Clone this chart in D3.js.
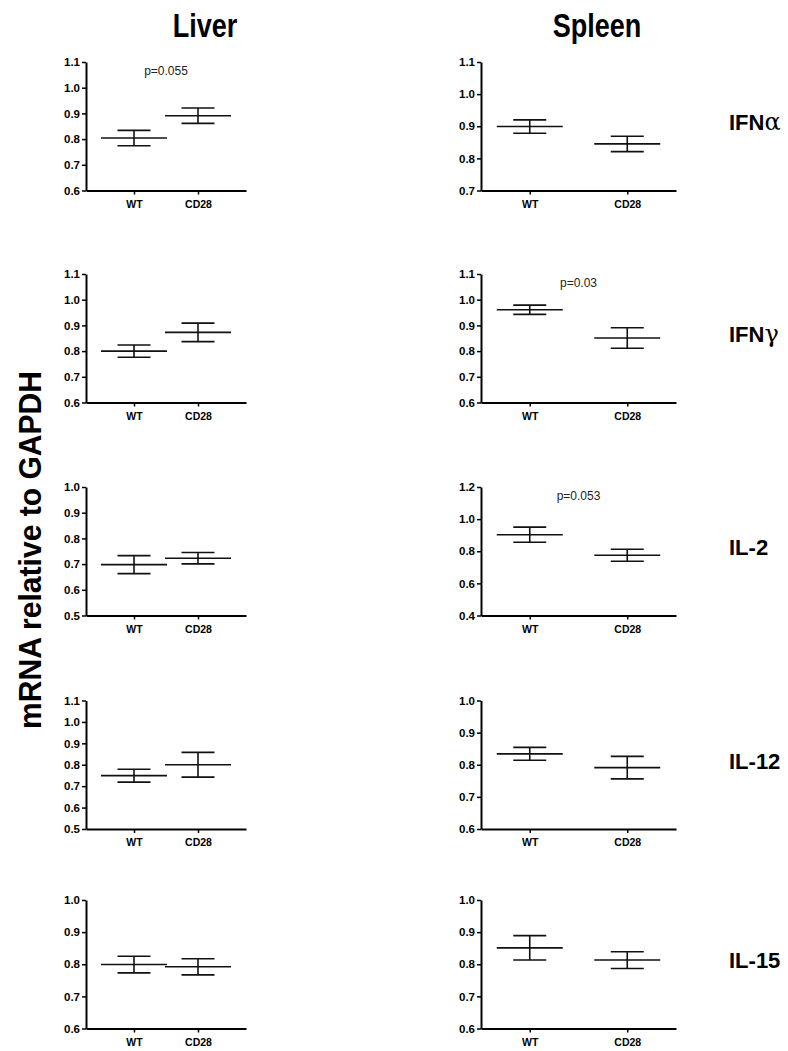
<!DOCTYPE html>
<html>
<head>
<meta charset="utf-8">
<script src="https://cdn.jsdelivr.net/npm/d3@7"></script>
<style>
  body { margin: 0; background: #fff; }
  svg { font-family: "Liberation Sans", Arial, sans-serif; }
</style>
</head>
<body>
<div id="chart"></div>
<script>
// gene rows, tissue columns, groups on x
const genes = ["IFN", "IFN", "IL-2", "IL-12", "IL-15"];
const greek = ["α", "γ", "", "", ""];
const tissues = ["Liver", "Spleen"];
const groups = ["WT", "CD28"];

// means [WT, CD28] and SEM per gene
const liverMean = [[0.804, 0.891], [0.800, 0.873], [0.698, 0.723], [0.749, 0.800], [0.799, 0.792]];
const liverSem = [[0.030, 0.030], [0.024, 0.036], [0.035, 0.022], [0.030, 0.058], [0.026, 0.025]];
const spleenMean = [[0.899, 0.845], [0.961, 0.851], [0.903, 0.775], [0.834, 0.791], [0.851, 0.813]];
const spleenSem = [[0.021, 0.024], [0.018, 0.040], [0.047, 0.037], [0.020, 0.035], [0.038, 0.026]];

// axis ranges
const liverDomain = [[0.6, 1.1], [0.6, 1.1], [0.5, 1.0], [0.5, 1.1], [0.6, 1.0]];
const spleenDomain = [[0.7, 1.1], [0.6, 1.1], [0.4, 1.2], [0.6, 1.0], [0.6, 1.0]];
const liverStep = [0.1, 0.1, 0.1, 0.1, 0.1];
const spleenStep = [0.1, 0.1, 0.2, 0.1, 0.1];

// p-value notes
const liverP = ["p=0.055", "", "", "", ""];
const spleenP = ["", "p=0.03", "p=0.053", "", ""];

const width = 788, height = 1051;
const rowTop = [62, 274, 487, 700.5, 900];
const plotH = 128.5;
const colLeft = [86, 481];
const colW = [160, 195];

const svg = d3.select("#chart").append("svg")
  .attr("width", width)
  .attr("height", height);

// column titles
const titleX = [205, 597];
tissues.forEach((t, c) => {
  svg.append("text")
    .attr("transform", `translate(${titleX[c]}, 37) scale(0.82, 1)`)
    .attr("text-anchor", "middle")
    .attr("font-size", 33)
    .attr("font-weight", "bold")
    .text(t);
});

// y title
svg.append("text")
  .attr("transform", `translate(41, 550) rotate(-90) scale(0.97, 1)`)
  .attr("text-anchor", "middle")
  .attr("font-size", 31)
  .attr("font-weight", "bold")
  .text("mRNA relative to GAPDH");

const tissueData = [
  { mean: liverMean, sem: liverSem, domain: liverDomain, step: liverStep, p: liverP },
  { mean: spleenMean, sem: spleenSem, domain: spleenDomain, step: spleenStep, p: spleenP },
];

tissueData.forEach((td, c) => {
  genes.forEach((g, r) => {
    const gEl = svg.append("g")
      .attr("transform", `translate(${colLeft[c]}, ${rowTop[r]})`);

    const x = d3.scalePoint()
      .domain(groups)
      .range([0, colW[c]])
      .padding(c === 0 ? 0.75 : 0.5);

    const dom = td.domain[r];
    const y = d3.scaleLinear().domain(dom).range([plotH, 0]);
    const ticks = d3.range(dom[0], dom[1] + 1e-6, td.step[r]);

    // y axis
    const yAxis = gEl.append("g")
      .call(d3.axisLeft(y).tickValues(ticks).tickFormat(d3.format(".1f")).tickSize(4).tickSizeOuter(0).tickPadding(2));
    yAxis.select(".domain").attr("stroke-width", 2);
    yAxis.selectAll(".tick line").attr("stroke-width", 1.5);
    yAxis.selectAll("text")
      .attr("font-size", 11.5)
      .attr("font-weight", "bold")
      .attr("font-family", "Liberation Sans, Arial, sans-serif");

    // x axis
    const xAxis = gEl.append("g")
      .attr("transform", `translate(0, ${plotH})`)
      .call(d3.axisBottom(x).tickSize(4).tickSizeOuter(0).tickPadding(6));
    xAxis.select(".domain").attr("stroke-width", 2);
    xAxis.selectAll(".tick line").attr("stroke-width", 1.5);
    xAxis.selectAll("text")
      .attr("font-size", 10.5)
      .attr("font-weight", "bold")
      .attr("font-family", "Liberation Sans, Arial, sans-serif");

    // mean +/- SEM
    const pts = groups.map((grp, i) => ({ grp, m: td.mean[r][i], s: td.sem[r][i] }));
    const bars = gEl.append("g").attr("stroke", "#111").attr("stroke-width", 1.6);
    pts.forEach(d => {
      const cx = x(d.grp);
      bars.append("line")
        .attr("x1", cx - 33).attr("x2", cx + 33)
        .attr("y1", y(d.m)).attr("y2", y(d.m));
      bars.append("line")
        .attr("x1", cx - 16.5).attr("x2", cx + 16.5)
        .attr("y1", y(d.m + d.s)).attr("y2", y(d.m + d.s));
      bars.append("line")
        .attr("x1", cx - 16.5).attr("x2", cx + 16.5)
        .attr("y1", y(d.m - d.s)).attr("y2", y(d.m - d.s));
      bars.append("line")
        .attr("x1", cx).attr("x2", cx)
        .attr("y1", y(d.m + d.s)).attr("y2", y(d.m - d.s));
    });

    // p value
    if (td.p[r]) {
      gEl.append("text")
        .attr("x", (x("WT") + x("CD28")) / 2)
        .attr("y", 13)
        .attr("text-anchor", "middle")
        .attr("font-size", 12)
        .attr("fill", "#222")
        .text(td.p[r]);
    }
  });
});

// gene labels on the right
genes.forEach((g, r) => {
  const t = svg.append("text")
    .attr("x", 729)
    .attr("y", rowTop[r] + plotH / 2 + 4)
    .attr("font-size", 22)
    .attr("font-weight", "bold")
    .text(g);
  if (greek[r]) {
    t.append("tspan")
      .attr("font-family", "DejaVu Serif, serif")
      .attr("font-weight", "normal")
      .attr("font-size", 24)
      .text(greek[r]);
  }
});
</script>
</body>
</html>
